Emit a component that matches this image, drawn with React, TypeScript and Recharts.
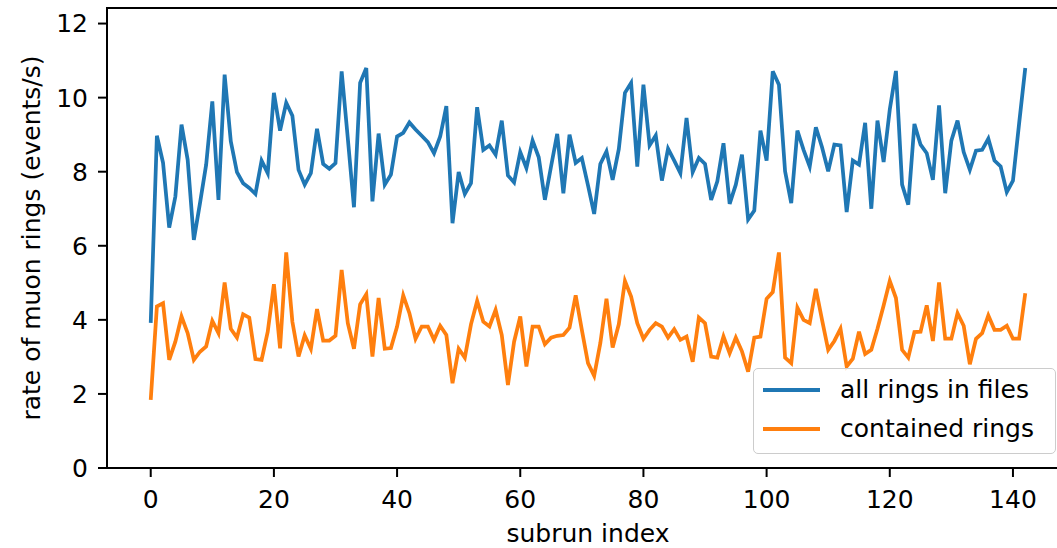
import { LineChart, Line, XAxis, YAxis, Legend, ReferenceArea } from 'recharts';

// rates per subrun
const allRings = [
  3.92, 8.97, 8.24, 6.49, 7.33, 9.27, 8.32, 6.16, 7.15, 8.19,
  9.9, 7.24, 10.62, 8.82, 7.99, 7.69, 7.56, 7.4, 8.3, 7.96,
  10.13, 9.11, 9.86, 9.51, 8.05, 7.65, 7.96, 9.16, 8.21, 8.08,
  8.23, 10.71, 8.9, 7.04, 10.4, 10.8, 7.2, 9.03, 7.65, 7.92,
  8.95, 9.05, 9.33, 9.14, 8.97, 8.8, 8.5, 8.95, 9.77, 6.61,
  7.99, 7.4, 7.69, 9.74, 8.59, 8.71, 8.46, 9.38, 7.9, 7.71,
  8.53, 8.1, 8.84, 8.39, 7.24, 8.14, 9.02, 7.42, 9.0, 8.24,
  8.37, 7.63, 6.86, 8.21, 8.55, 7.78, 8.61, 10.13, 10.4, 8.14,
  10.35, 8.71, 8.98, 7.76, 8.62, 8.3, 7.96, 9.45, 7.99, 8.37,
  8.21, 7.24, 7.74, 8.77, 7.13, 7.65, 8.46, 6.71, 6.95, 9.11,
  8.3, 10.71, 10.35, 8.01, 7.15, 9.11, 8.59, 8.14, 9.2, 8.66,
  8.01, 8.73, 8.71, 6.91, 8.3, 8.19, 9.32, 7.0, 9.38, 8.26,
  9.68, 10.72, 7.65, 7.11, 9.29, 8.73, 8.5, 7.78, 9.79, 7.42,
  8.84, 9.38, 8.53, 8.05, 8.57, 8.59, 8.89, 8.3, 8.14, 7.45,
  7.76, 9.3, 10.8,
];

const containedRings = [
  1.84, 4.36, 4.45, 2.92, 3.41, 4.09, 3.64, 2.92, 3.14, 3.28,
  3.97, 3.64, 5.01, 3.76, 3.52, 4.15, 4.06, 2.94, 2.92, 3.68,
  4.96, 3.23, 5.82, 3.95, 3.01, 3.58, 3.22, 4.29, 3.44, 3.44,
  3.57, 5.35, 3.91, 3.22, 4.42, 4.69, 3.01, 4.59, 3.22, 3.24,
  3.82, 4.66, 4.18, 3.49, 3.82, 3.82, 3.46, 3.84, 3.59, 2.29,
  3.22, 2.98, 3.88, 4.51, 3.95, 3.82, 4.27, 3.59, 2.24, 3.41,
  4.09, 2.74, 3.82, 3.82, 3.34, 3.52, 3.57, 3.59, 3.79, 4.66,
  3.73, 2.83, 2.49, 3.37, 4.57, 3.25, 3.88, 5.05, 4.63, 3.91,
  3.49, 3.73, 3.91, 3.82, 3.52, 3.75, 3.46, 3.55, 2.87, 4.06,
  3.91, 3.01, 2.98, 3.55, 3.1, 3.52, 3.15, 2.6, 3.52, 3.55,
  4.57, 4.75, 5.82, 2.98, 2.83, 4.33, 4.0, 3.91, 4.84, 4.0,
  3.19, 3.43, 3.76, 2.74, 2.95, 3.68, 3.08, 3.19, 3.76, 4.39,
  5.05, 4.59, 3.19, 2.98, 3.67, 3.68, 4.39, 3.43, 5.01, 3.49,
  3.49, 4.18, 3.84, 2.8, 3.49, 3.64, 4.12, 3.73, 3.73, 3.84,
  3.49, 3.49, 4.72,
];

const subrunIndex = allRings.map((_, i) => i);
const xTicks = [0, 20, 40, 60, 80, 100, 120, 140];
const yTicks = [0, 2, 4, 6, 8, 10, 12];

const seriesNames = ['all rings in files', 'contained rings'];
const colors = ['#1f77b4', '#ff7f0e'];

const data = subrunIndex.map((idx, i) => ({
  subrun: idx,
  all: allRings[i],
  contained: containedRings[i],
}));

const X_DOMAIN: [number, number] = [-7.1, 149.1];
const Y_DOMAIN: [number, number] = [0, 12.42];

const font = '"DejaVu Sans", sans-serif';
const FS = 25;
const tickStyle = { fontSize: FS, fill: '#000', fontFamily: font };

function LegendBox() {
  return (
    <div
      style={{
        width: 303,
        height: 86,
        border: '1.5px solid #cccccc',
        borderRadius: 5,
        background: 'rgba(255,255,255,0.8)',
        fontFamily: font,
        fontSize: FS,
        color: '#000',
        position: 'relative',
        boxSizing: 'border-box',
      }}
    >
      {seriesNames.map((name, i) => (
        <div
          key={name}
          style={{ position: 'absolute', left: 9, top: 6 + i * 39, height: 30, display: 'flex', alignItems: 'center' }}
        >
          <div style={{ width: 57, height: 3.75, background: colors[i] }} />
          <span style={{ marginLeft: 20, whiteSpace: 'nowrap', lineHeight: '30px' }}>{name}</span>
        </div>
      ))}
    </div>
  );
}

export default function App() {
  // the right spine sits just past the picture's edge, so the chart is a bit wider and clipped
  return (
    <div style={{ position: 'absolute', left: 0, top: 0, width: 1057, height: 548, overflow: 'hidden', background: '#fff' }}>
      <LineChart width={1072} height={548} data={data} margin={{ top: 8, right: 3, left: 0, bottom: 0 }}>
        <XAxis
          dataKey="subrun"
          type="number"
          domain={X_DOMAIN}
          ticks={xTicks}
          allowDataOverflow
          height={80}
          tickSize={9}
          tickMargin={13}
          tick={tickStyle}
          stroke="#000"
          strokeWidth={2}
          label={{ value: 'subrun index', position: 'insideBottom', offset: 6, style: { fontSize: FS, fill: '#000', fontFamily: font } }}
        />
        <YAxis
          type="number"
          domain={Y_DOMAIN}
          ticks={yTicks}
          allowDataOverflow
          width={107}
          tickSize={9}
          tickMargin={10}
          tick={tickStyle}
          stroke="#000"
          strokeWidth={2}
          label={{
            content: () => (
              <text
                x={40}
                y={238}
                transform="rotate(-90, 40, 238)"
                textAnchor="middle"
                style={{ fontSize: FS, fill: '#000', fontFamily: font }}
              >
                rate of muon rings (events/s)
              </text>
            ),
          }}
        />
        <ReferenceArea
          x1={X_DOMAIN[0]}
          x2={X_DOMAIN[1]}
          y1={Y_DOMAIN[0]}
          y2={Y_DOMAIN[1]}
          fill="none"
          stroke="#000"
          strokeWidth={2}
          ifOverflow="visible"
        />
        <Line dataKey="all" name={seriesNames[0]} stroke={colors[0]} strokeWidth={3.75} dot={false} isAnimationActive={false} />
        <Line dataKey="contained" name={seriesNames[1]} stroke={colors[1]} strokeWidth={3.75} dot={false} isAnimationActive={false} />
        <Legend
          layout="horizontal"
          verticalAlign="middle"
          align="center"
          wrapperStyle={{ left: 753, top: 368, width: 'auto' }}
          content={() => <LegendBox />}
        />
      </LineChart>
    </div>
  );
}
